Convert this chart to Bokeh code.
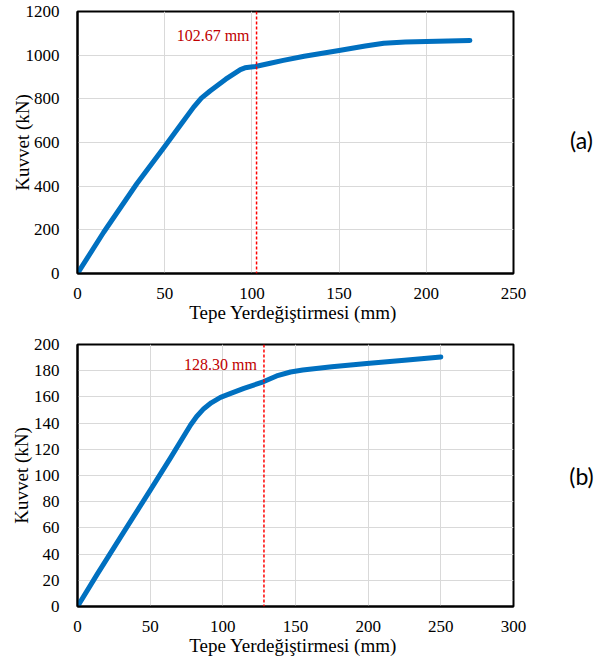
from bokeh.plotting import figure
from bokeh.layouts import column, row
from bokeh.models import FixedTicker, Label, Span
from bokeh.core.properties import value
from bokeh.embed import file_html
from bokeh.resources import INLINE

# ---- data (a)
xa = [0, 15, 34, 50, 60, 66.6, 71, 76, 85, 93.4, 96, 102, 110.5, 118, 130, 150, 165, 175.6, 188, 200, 225]
ya = [0, 189, 411, 582, 690, 762, 803, 836, 890, 934, 942, 948, 963, 976, 995, 1021, 1042, 1055, 1060, 1063, 1067]
mark_a = 102.67
label_a = "102.67 mm"

# ---- data (b)
xb = [0, 13.5, 31.9, 50.2, 64, 77.8, 82, 86.9, 92, 98.4, 105, 114.5, 127.8, 137, 146.6, 155, 175, 199, 225, 250]
yb = [0, 24.5, 57, 89, 113.5, 138.5, 145, 151, 155.5, 159.6, 162.5, 166.5, 171.5, 176, 179, 180.5, 183, 185.5, 188, 190.5]
mark_b = 128.30
label_b = "128.30 mm"

xticks_a = [0, 50, 100, 150, 200, 250]
yticks_a = [0, 200, 400, 600, 800, 1000, 1200]
xticks_b = [0, 50, 100, 150, 200, 250, 300]
yticks_b = list(range(0, 201, 20))

SERIF = "Liberation Serif"
MAIN_W = 533
TAG_W = 614 - MAIN_W


def make(xs, ys, xr, yr, xt, yt, mark, mtext, mtext_y, top, height, ylab_std):
    p = figure(width=MAIN_W, height=height, frame_width=436, frame_height=262,
               x_range=xr, y_range=yr, output_backend="svg", toolbar_location=None,
               min_border_left=77, min_border_right=MAIN_W - 77 - 436, min_border_top=top,
               min_border_bottom=height - top - 262)
    p.outline_line_color = "black"
    p.outline_line_width = 2
    p.xaxis.ticker = FixedTicker(ticks=xt)
    p.yaxis.ticker = FixedTicker(ticks=yt)
    for ax in (p.xaxis, p.yaxis):
        ax.major_tick_line_color = None
        ax.minor_tick_line_color = None
        ax.axis_line_color = "black"
        ax.axis_line_width = 2
        ax.major_label_text_font = SERIF
        ax.major_label_text_font_size = "17px"
        ax.major_label_text_color = "black"
        ax.axis_label_text_font = SERIF
        ax.axis_label_text_font_size = "19px"
        ax.axis_label_text_font_style = "normal"
        ax.axis_label_text_color = "black"
    p.xaxis.major_label_standoff = 8
    p.yaxis.major_label_standoff = 12
    p.xaxis.axis_label = "Tepe Yerdeğiştirmesi  (mm)"
    p.yaxis.axis_label = "Kuvvet (kN)"
    p.xaxis.axis_label_standoff = 0
    p.yaxis.axis_label_standoff = ylab_std
    p.grid.grid_line_color = "#d9d9d9"
    p.grid.grid_line_width = 1
    p.line(xs, ys, line_color="#0070C0", line_width=5, line_join="round", line_cap="round")
    p.add_layout(Span(location=mark, dimension="height", line_color="#FF0000",
                      line_width=1.5, line_dash="3 2"))
    p.add_layout(Label(x=mark, y=mtext_y, text=mtext, text_align="right",
                       text_baseline="middle", x_offset=-7, text_font=SERIF,
                       text_font_size="16px", text_color="#C00000"))
    return p


def tag(text, height, ty):
    t = figure(width=TAG_W, height=height, x_range=(0, TAG_W), y_range=(0, height),
               output_backend="svg", toolbar_location=None, min_border=0)
    t.axis.visible = False
    t.grid.visible = False
    t.outline_line_color = None
    t.text(x=[581 - MAIN_W], y=[height - ty], text=[text], text_align="center",
           text_baseline="middle", text_font=value("Lato"), text_font_size="23px",
           text_color="black")
    return t


pa = make(xa, ya, (0, 250), (0, 1200), xticks_a, yticks_a, mark_a, label_a, 1090, 11, 330, -10)
pb = make(xb, yb, (0, 300), (0, 200), xticks_b, yticks_b, mark_b, label_b, 184.8, 14, 333, -1)
ta = tag("(a)", 330, 162)
tb = tag("(b)", 333, 497 - 330)

layout = column(row(pa, ta, spacing=0), row(pb, tb, spacing=0), spacing=0)
open("out.html", "w").write(file_html(layout, INLINE))
